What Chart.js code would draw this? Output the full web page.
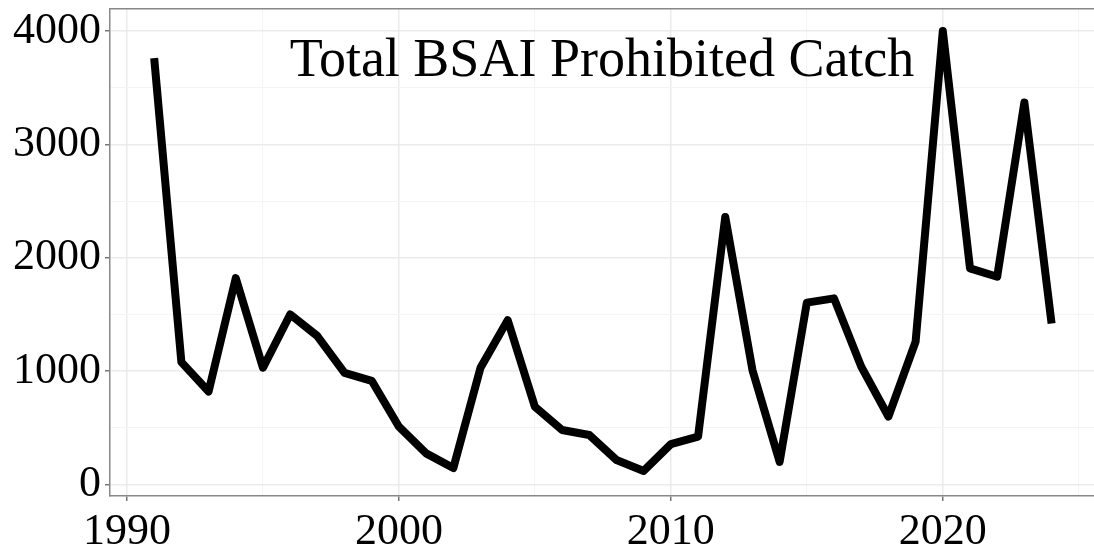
<!DOCTYPE html>
<html>
<head>
<meta charset="utf-8">
<script src="https://cdn.jsdelivr.net/npm/chart.js@4.4.1/dist/chart.umd.min.js"></script>
<style>
    html, body { margin: 0; padding: 0; background: #fff; }
    #wrap { width: 1094px; height: 553px; }
</style>
</head>
<body>
<div id="wrap"><canvas id="chart1" width="1094" height="553"></canvas></div>
<script>
    // values
    const years = [1991, 1992, 1993, 1994, 1995, 1996, 1997, 1998, 1999, 2000,
        2001, 2002, 2003, 2004, 2005, 2006, 2007, 2008, 2009, 2010,
        2011, 2012, 2013, 2014, 2015, 2016, 2017, 2018, 2019, 2020,
        2021, 2022, 2023, 2024];
    const catchValues = [3760, 1080, 820, 1820, 1030, 1500, 1310, 985, 915, 510,
        275, 145, 1030, 1450, 686, 481, 437, 216, 120, 357,
        422, 2360, 1010, 200, 1604, 1642, 1040, 600, 1260, 4000,
        1907, 1833, 3370, 1420];
    const chartTitle = 'Total BSAI Prohibited Catch';
    // grid positions; only the majors get a label and a tick mark
    const xGridTicks = [1990, 1995, 2000, 2005, 2010, 2015, 2020, 2025];
    const xMajorTicks = [1990, 2000, 2010, 2020];
    const yGridTicks = [0, 500, 1000, 1500, 2000, 2500, 3000, 3500, 4000];
    const yMajorTicks = [0, 1000, 2000, 3000, 4000];

    const FONT = "'Liberation Serif', 'DejaVu Serif', serif";

    const isMajor = (v, list) => list.indexOf(v) !== -1;

    // title sits inside the panel, centred on it
    const innerTitle = {
        id: 'innerTitle',
        beforeDatasetsDraw(chart) {
            const a = chart.chartArea;
            const c = chart.ctx;
            c.save();
            c.font = '54px ' + FONT;
            c.fillStyle = '#000';
            c.textAlign = 'center';
            c.textBaseline = 'alphabetic';
            c.fillText(chartTitle, (a.left + a.right) / 2, a.top + 67);
            c.restore();
        }
    };

    const gridFor = (list) => ({
        color: c => isMajor(c.tick && c.tick.value, list) ? '#ebebeb' : '#f4f4f4',
        lineWidth: c => isMajor(c.tick && c.tick.value, list) ? 1.5 : 1,
        tickColor: c => isMajor(c.tick && c.tick.value, list) ? '#777' : 'rgba(0,0,0,0)',
        tickWidth: 1.5,
        tickLength: 5
    });

    const ctx = document.getElementById('chart1');
    const myChart = new Chart(ctx, {
        type: 'line',
        data: {
            datasets: [{
                data: years.map((y, i) => ({ x: y, y: catchValues[i] })),
                borderColor: '#000',
                borderWidth: 8,
                borderJoinStyle: 'round',
                borderCapStyle: 'butt',
                pointRadius: 0,
                tension: 0,
                fill: false,
                xAxisID: 'x',
                yAxisID: 'y'
            }]
        },
        options: {
            responsive: false,
            animation: false,
            devicePixelRatio: 1,
            layout: { padding: { top: 9, right: 0, left: 0, bottom: 0 } },
            plugins: {
                legend: { display: false },
                tooltip: { enabled: false },
                title: { display: false }
            },
            scales: {
                x: {
                    type: 'linear',
                    position: 'bottom',
                    min: 1989.375,
                    max: 2025.56,
                    afterBuildTicks(s) { s.ticks = xGridTicks.map(v => ({ value: v })); },
                    afterFit(s) { s.height = 57; s.paddingLeft = 0; s.paddingRight = 0; },
                    border: { display: true, color: '#888', width: 1.5 },
                    grid: gridFor(xMajorTicks),
                    ticks: {
                        autoSkip: false,
                        maxRotation: 0,
                        padding: 9,
                        color: '#000',
                        font: { family: FONT, size: 44, lineHeight: 1 },
                        callback: v => isMajor(v, xMajorTicks) ? String(v) : ''
                    }
                },
                xTop: {
                    type: 'linear',
                    position: 'top',
                    min: 1989.375,
                    max: 2025.56,
                    afterFit(s) { s.height = 0; s.paddingLeft = 0; s.paddingRight = 0; },
                    border: { display: true, color: '#888', width: 1.5 },
                    grid: { display: false },
                    ticks: { display: false }
                },
                y: {
                    type: 'linear',
                    position: 'left',
                    min: -101,
                    max: 4194,
                    afterBuildTicks(s) { s.ticks = yGridTicks.map(v => ({ value: v })); },
                    afterFit(s) { s.width = 110; s.paddingTop = 0; s.paddingBottom = 0; },
                    border: { display: true, color: '#888', width: 1.5 },
                    grid: gridFor(yMajorTicks),
                    ticks: {
                        autoSkip: false,
                        padding: 4,
                        color: '#000',
                        font: { family: FONT, size: 44, lineHeight: 1 },
                        callback: v => isMajor(v, yMajorTicks) ? String(v) : ''
                    }
                }
            }
        },
        plugins: [innerTitle]
    });
</script>
</body>
</html>
